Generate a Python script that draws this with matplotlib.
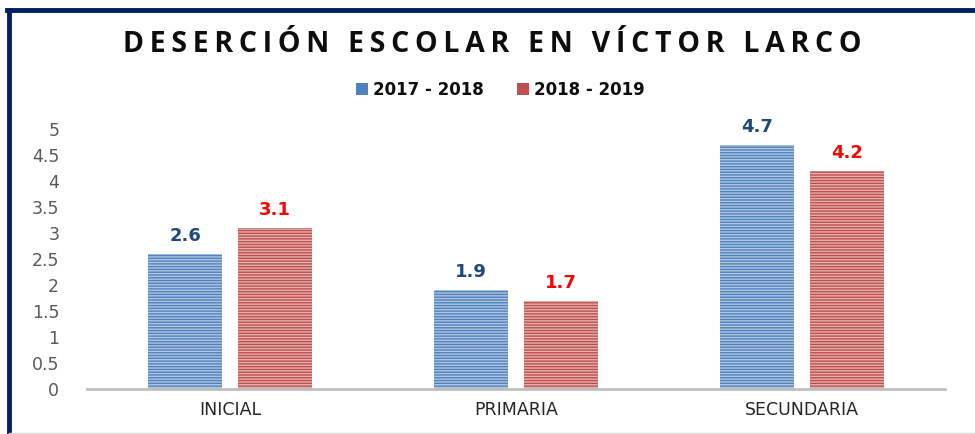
import numpy as np
import matplotlib.pyplot as plt
from matplotlib.lines import Line2D

categories = ['INICIAL', 'PRIMARIA', 'SECUNDARIA']
series_names = ['2017 - 2018', '2018 - 2019']
vals_1718 = [2.6, 1.9, 4.7]
vals_1819 = [3.1, 1.7, 4.2]
yticks = [0, 0.5, 1, 1.5, 2, 2.5, 3, 3.5, 4, 4.5, 5]
ytick_labels = ['0', '0.5', '1', '1.5', '2', '2.5', '3', '3.5', '4', '4.5', '5']

blue = '#4F81BD'
red = '#C0504D'

plt.rcParams['font.family'] = ['DejaVu Sans']
plt.rcParams['hatch.linewidth'] = 1.0

fig = plt.figure(figsize=(9.75, 4.34), dpi=100)
ax = fig.add_axes([0.0892, 0.1037, 0.8800, 0.5991])

x = np.arange(len(categories))
w = 0.258
off = 0.157

for vals, col, sign, name, lab_col in [(vals_1718, blue, -1, series_names[0], '#1F497D'),
                                       (vals_1819, red, 1, series_names[1], '#FF0000')]:
    xs = x + sign * off
    ax.bar(xs, vals, width=w, color=col, edgecolor='none', label=name)
    ax.bar(xs, vals, width=w, fill=False, hatch='------', edgecolor='white',
           linewidth=0, alpha=0.55)
    for xi, v in zip(xs, vals):
        ax.text(xi, v + 0.17, f'{v}', ha='center', va='bottom', fontsize=13,
                fontweight='bold', color=lab_col)

ax.set_xlim(-0.5, 2.5)
ax.set_ylim(0, 5)
ax.set_yticks(yticks)
ax.set_yticklabels(ytick_labels, fontsize=12.5, color='#595959')
ax.set_xticks(x)
ax.set_xticklabels(categories, fontsize=12.5, color='#262626')
ax.tick_params(axis='y', length=0, pad=20)
ax.tick_params(axis='x', length=0, pad=9)
for s in ['top', 'right', 'left']:
    ax.spines[s].set_visible(False)
ax.spines['bottom'].set_color('#BFBFBF')
ax.spines['bottom'].set_linewidth(2)

fig.text(0.505, 0.898, '\u2009'.join('DESERCIÓN ESCOLAR EN VÍCTOR LARCO'),
         ha='center', va='center', fontsize=20.5, fontweight='bold', color='#0D0D0D',
         family=['Open Sans', 'DejaVu Sans'])

leg = fig.legend(loc='center', bbox_to_anchor=(0.513, 0.793), ncol=2, frameon=False,
                 fontsize=12, handlelength=0.7, handleheight=0.7, columnspacing=2.0,
                 handletextpad=0.3)
for t in leg.get_texts():
    t.set_fontweight('bold')
    t.set_color('#0D0D0D')

# frame
fig.add_artist(Line2D([0.007, 1.0], [0.978, 0.978], color='#002060', lw=3.5))
fig.add_artist(Line2D([0.009, 0.009], [0.0, 0.978], color='#002060', lw=3.5))
fig.add_artist(Line2D([0.009, 1.0], [0.003, 0.003], color='#D9D9D9', lw=1))

fig.savefig('out.png', dpi=100, facecolor='white')
